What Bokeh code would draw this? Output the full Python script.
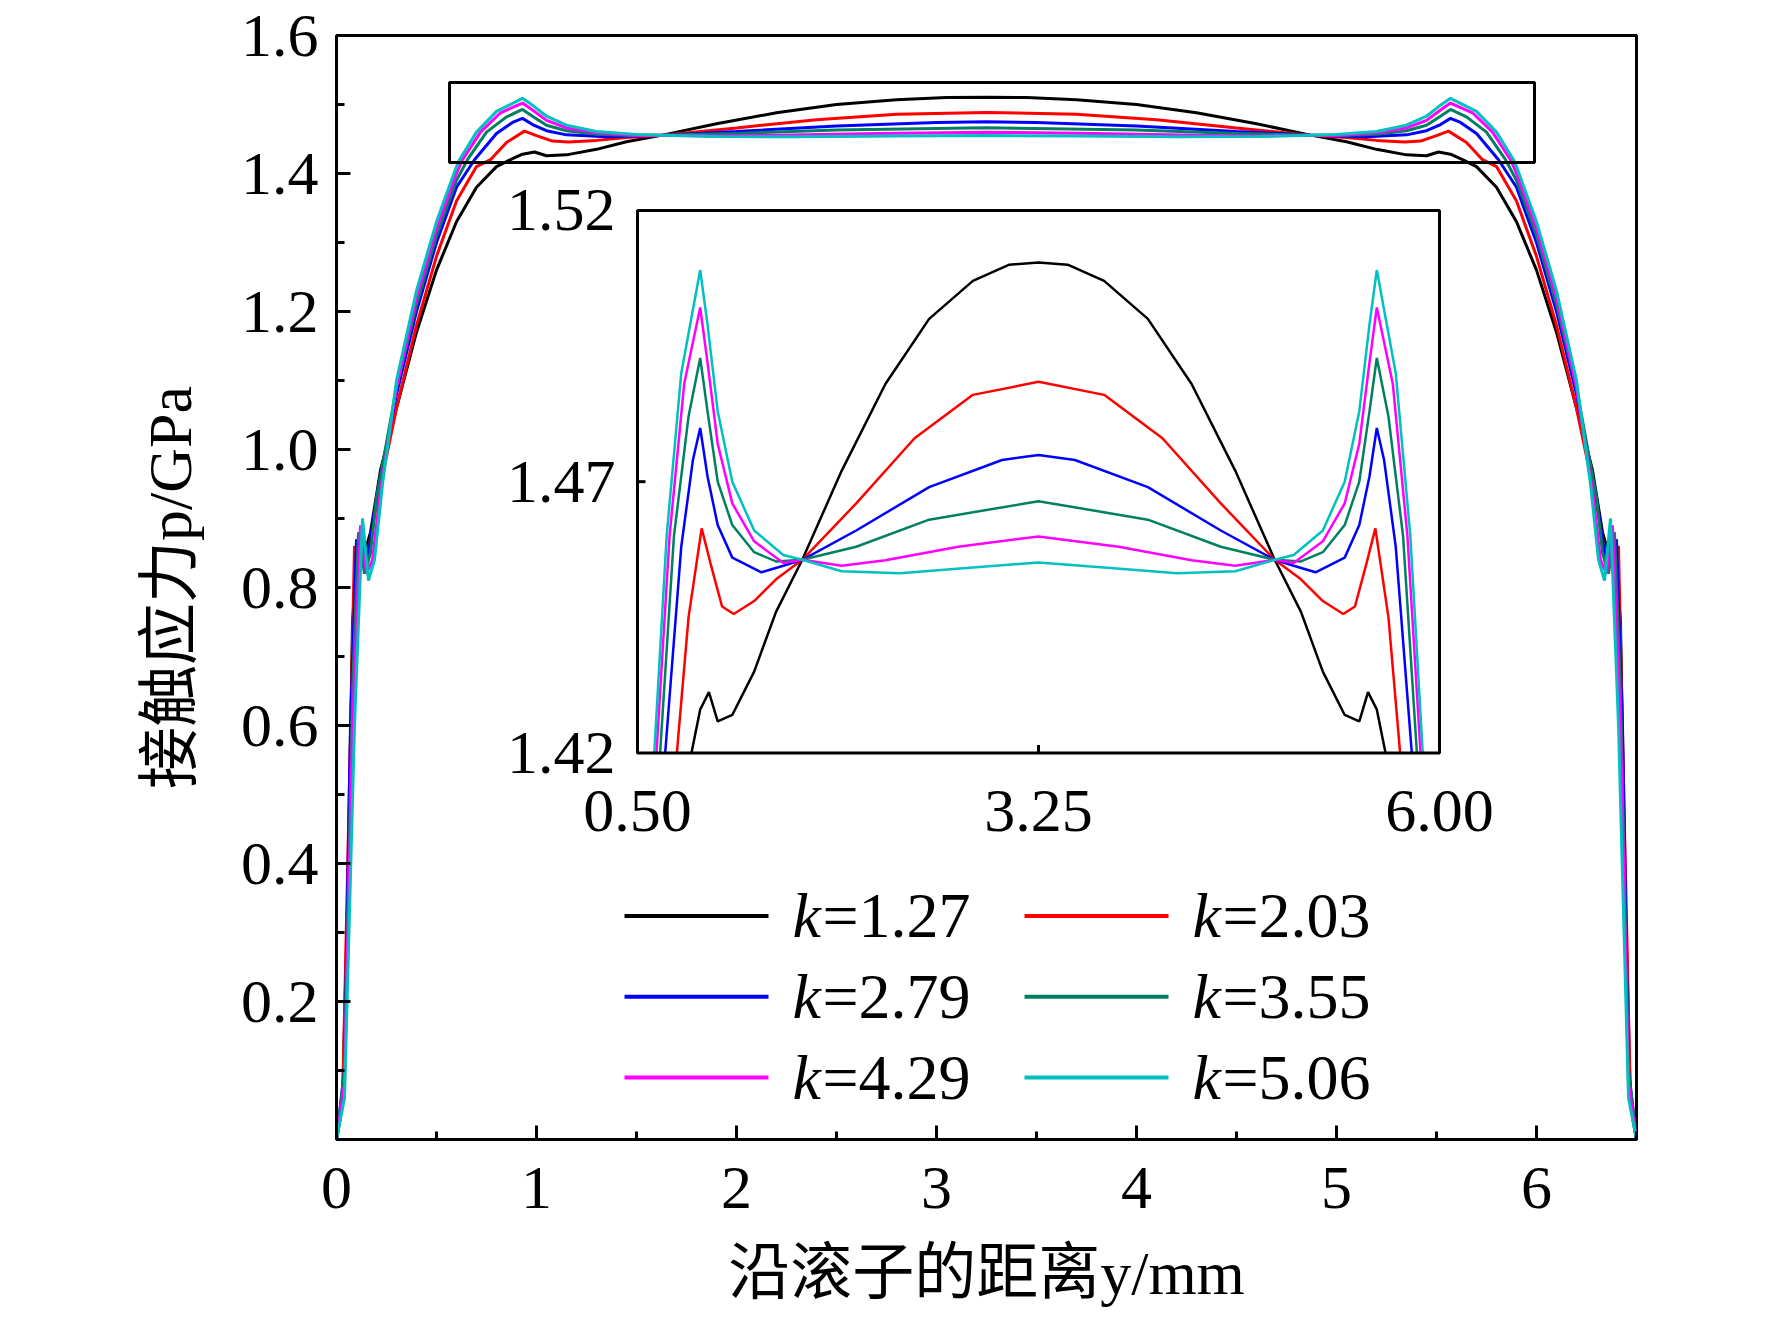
import numpy as np
from bokeh.plotting import figure
from bokeh.models import Range1d, Label, FixedTicker, CustomJSTickFormatter
from bokeh.embed import file_html
from bokeh.resources import INLINE

CENTER = 3.25
kvals = ["=1.27", "=2.03", "=2.79", "=3.55", "=4.29", "=5.06"]
colors = ["#000000", "#ff0000", "#0000ff", "#008060", "#ff00ff", "#00c0c0"]

# left-half samples (x in mm, p in GPa); the right half mirrors them about y=3.25 mm
x_k127 = [0, 0.03, 0.06, 0.08, 0.1, 0.13, 0.17, 0.22, 0.3, 0.4, 0.5, 0.6, 0.7, 0.8, 0.87, 0.93, 0.99, 1.05, 1.15, 1.3, 1.45, 1.63, 1.9, 2.2, 2.5, 2.8, 3.05, 3.25]
p_k127 = [0, 0.05, 0.4, 0.75, 0.83, 0.84, 0.88, 0.97, 1.06, 1.17, 1.26, 1.33, 1.38, 1.41, 1.42, 1.428, 1.4312, 1.4258, 1.427, 1.435, 1.446, 1.4556, 1.472, 1.488, 1.500, 1.507, 1.510, 1.5104]
x_k203 = [0, 0.03, 0.06, 0.09, 0.12, 0.15, 0.2, 0.3, 0.4, 0.5, 0.6, 0.7, 0.77, 0.85, 0.94, 1.0, 1.08, 1.16, 1.3, 1.45, 1.63, 2.0, 2.4, 2.8, 3.25]
p_k203 = [0, 0.05, 0.45, 0.86, 0.84, 0.84, 0.92, 1.06, 1.18, 1.28, 1.36, 1.41, 1.42, 1.445, 1.4614, 1.455, 1.447, 1.4456, 1.448, 1.452, 1.4556, 1.466, 1.478, 1.486, 1.4884]
x_k279 = [0, 0.04, 0.07, 0.1, 0.13, 0.16, 0.2, 0.3, 0.4, 0.5, 0.6, 0.69, 0.8, 0.88, 0.93, 0.98, 1.05, 1.15, 1.35, 1.5, 1.63, 2.0, 2.5, 3.0, 3.25]
p_k279 = [0, 0.1, 0.6, 0.87, 0.83, 0.85, 0.93, 1.08, 1.2, 1.3, 1.38, 1.42, 1.458, 1.474, 1.4799, 1.471, 1.462, 1.456, 1.4533, 1.4545, 1.4556, 1.461, 1.469, 1.474, 1.4749]
x_k355 = [0, 0.04, 0.08, 0.11, 0.14, 0.17, 0.2, 0.3, 0.4, 0.5, 0.6, 0.655, 0.75, 0.85, 0.93, 0.98, 1.05, 1.15, 1.3, 1.45, 1.63, 2.0, 2.5, 3.25]
p_k355 = [0, 0.1, 0.65, 0.88, 0.82, 0.85, 0.93, 1.09, 1.21, 1.31, 1.39, 1.42, 1.46, 1.482, 1.4928, 1.483, 1.470, 1.462, 1.457, 1.4553, 1.4556, 1.458, 1.463, 1.4664]
x_k429 = [0, 0.04, 0.08, 0.12, 0.15, 0.18, 0.22, 0.3, 0.4, 0.5, 0.6, 0.63, 0.72, 0.82, 0.93, 0.98, 1.05, 1.15, 1.3, 1.5, 1.63, 1.9, 2.2, 2.7, 3.25]
p_k429 = [0, 0.08, 0.6, 0.89, 0.82, 0.84, 0.94, 1.09, 1.22, 1.32, 1.40, 1.42, 1.46, 1.488, 1.5021, 1.492, 1.477, 1.466, 1.459, 1.455, 1.4556, 1.4545, 1.4555, 1.458, 1.4599]
x_k506 = [0, 0.04, 0.09, 0.13, 0.16, 0.19, 0.23, 0.3, 0.4, 0.5, 0.6, 0.615, 0.7, 0.8, 0.93, 0.98, 1.05, 1.15, 1.3, 1.5, 1.63, 1.9, 2.3, 2.8, 3.25]
p_k506 = [0, 0.06, 0.6, 0.90, 0.81, 0.84, 0.95, 1.1, 1.23, 1.33, 1.41, 1.42, 1.46, 1.49, 1.509, 1.499, 1.483, 1.47, 1.461, 1.4565, 1.4556, 1.4535, 1.4531, 1.4542, 1.4551]
xs_half = [x_k127, x_k203, x_k279, x_k355, x_k429, x_k506]
ps_half = [p_k127, p_k203, p_k279, p_k355, p_k429, p_k506]

x_ticks = [0, 1, 2, 3, 4, 5, 6]
y_ticks = [0.2, 0.4, 0.6, 0.8, 1.0, 1.2, 1.4, 1.6]
inset_x = (0.5, 6.0)
inset_y = (1.42, 1.52)
inset_xticks = ["0.50", "3.25", "6.00"]
inset_yticks = ["1.52", "1.47", "1.42"]
zoom_box = (0.565, 5.99, 1.416, 1.532)

def full(xh, ph):
    xh = np.array(xh); ph = np.array(ph)
    x = np.concatenate([xh, 2 * CENTER - xh[::-1][1:]])
    y = np.concatenate([ph, ph[::-1][1:]])
    return x, y

W, H = 1756, 1309
FL, FT, FW, FH = 336, 35, 1300, 1111
p = figure(width=W, height=H, output_backend="svg", toolbar_location=None,
           x_range=Range1d(0, 6.5), y_range=Range1d(0, 1.6),
           min_border_left=FL, min_border_top=FT,
           min_border_right=W - FL - FW, min_border_bottom=H - FT - FH)
p.grid.visible = False
p.outline_line_color = "black"
p.outline_line_width = 3
SERIF = "Liberation Serif"
for ax in (p.xaxis[0], p.yaxis[0]):
    ax.axis_line_width = 3
    ax.major_tick_in = 14
    ax.major_tick_out = 0
    ax.minor_tick_in = 8
    ax.minor_tick_out = 0
    ax.major_tick_line_width = 3
    ax.minor_tick_line_width = 3
    ax.major_label_text_font = SERIF
    ax.major_label_text_font_size = "62px"
    ax.major_label_text_color = "black"
    ax.axis_label_text_color = "black"
    ax.axis_label_text_font = "Liberation Serif, Noto Sans CJK SC"
    ax.axis_label_text_font_size = "62px"
    ax.axis_label_text_font_style = "normal"
p.xaxis.ticker = FixedTicker(ticks=x_ticks, minor_ticks=[0.5 + i for i in range(7)])
p.yaxis.ticker = FixedTicker(ticks=y_ticks, minor_ticks=[0.1 + 0.2 * i for i in range(8)])
p.yaxis.formatter = CustomJSTickFormatter(code="return tick.toFixed(1);")
p.xaxis.axis_label = "沿滚子的距离y/mm"
p.yaxis.axis_label = "接触应力p/GPa"
p.xaxis.major_label_standoff = 28
p.yaxis.major_label_standoff = 18
p.xaxis.axis_label_standoff = 28
p.yaxis.axis_label_standoff = 34

# inset mapping onto the whole frame
ipx0, ipx1 = 645 - 8 - FL, 1447 - 8 - FL
ipy0, ipy1 = FT + FH - (765 - 8), FT + FH - (219 - 8)
sx = (inset_x[1] - inset_x[0]) / (ipx1 - ipx0)
sy = (inset_y[1] - inset_y[0]) / (ipy1 - ipy0)
ixs = inset_x[0] - ipx0 * sx
iys = inset_y[0] - ipy0 * sy
p.extra_x_ranges = {"ix": Range1d(ixs, ixs + FW * sx)}
p.extra_y_ranges = {"iy": Range1d(iys, iys + FH * sy)}

for xh, ph, c in zip(xs_half, ps_half, colors):
    x, y = full(xh, ph)
    p.line(x, y, color=c, line_width=3)
    m = (y >= inset_y[0] - 1e-9) & (x >= inset_x[0]) & (x <= inset_x[1])
    p.line(x[m], y[m], color=c, line_width=2.5, x_range_name="ix", y_range_name="iy")

p.quad(left=zoom_box[0], right=zoom_box[1], bottom=zoom_box[2], top=zoom_box[3],
       fill_color=None, line_color="black", line_width=3)
p.quad(left=inset_x[0], right=inset_x[1], bottom=inset_y[0], top=inset_y[1],
       fill_color=None, line_color="black", line_width=3, x_range_name="ix", y_range_name="iy")
p.segment(x0=[3.25], x1=[3.25], y0=[inset_y[0]], y1=[inset_y[0] + 8 * sy], line_width=3,
          color="black", x_range_name="ix", y_range_name="iy")
p.segment(x0=[inset_x[0]], x1=[inset_x[0] + 8 * sx], y0=[1.47], y1=[1.47], line_width=3,
          color="black", x_range_name="ix", y_range_name="iy")
for t in inset_xticks:
    p.add_layout(Label(x=float(t), y=inset_y[0], text=t, x_range_name="ix", y_range_name="iy",
                       text_align="center", text_baseline="top", y_offset=-38,
                       text_font=SERIF, text_font_size="62px", text_color="black"))
for t in inset_yticks:
    p.add_layout(Label(x=inset_x[0], y=float(t), text=t, x_range_name="ix", y_range_name="iy",
                       text_align="right", text_baseline="middle", x_offset=-22,
                       text_font=SERIF, text_font_size="62px", text_color="black"))

# legend
rows = [0.324, 0.207, 0.090]
cols = [(1.44, 2.16, 2.28), (3.44, 4.16, 4.28)]
for i, (kv, c) in enumerate(zip(kvals, colors)):
    r, col = rows[i // 2], cols[i % 2]
    p.line([col[0], col[1]], [r, r], color=c, line_width=4)
    p.add_layout(Label(x=col[2], y=r, text="k", text_font=SERIF, text_font_style="italic",
                       text_font_size="64px", text_baseline="middle", text_color="black"))
    p.add_layout(Label(x=col[2], y=r, x_offset=30, text=kv, text_font=SERIF,
                       text_font_size="64px", text_baseline="middle", text_color="black"))

open("out.html", "w").write(file_html(p, INLINE))
